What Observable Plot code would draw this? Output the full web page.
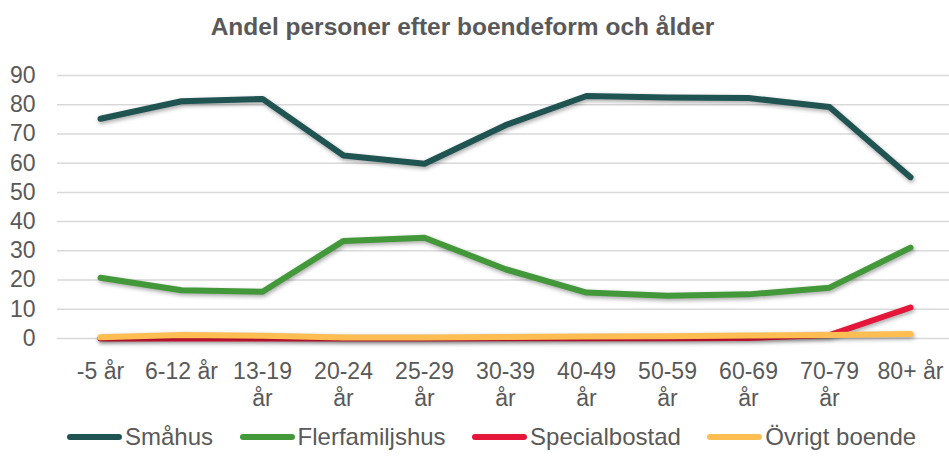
<!DOCTYPE html>
<html>
<head>
<meta charset="utf-8">
<script src="https://cdn.jsdelivr.net/npm/d3@7"></script>
<script src="https://cdn.jsdelivr.net/npm/@observablehq/plot@0.6"></script>
<style>
  html, body { margin: 0; padding: 0; background: #fff; }
  #wrap { width: 949px; height: 456px; overflow: hidden; font-family: "Liberation Sans", Arial, sans-serif; color: #595959; }
  #title { width: 949px; box-sizing: border-box; padding: 11.5px 24px 0 0; height: 60px; line-height: 30px; font-size: 24.5px; font-weight: bold; text-align: center; }
  #chart svg { display: block; }
  #chart g[aria-label="line"] path { filter: drop-shadow(1.5px 2.5px 2px rgba(0,0,0,0.35)); }
  #legend { height: 36px; box-sizing: border-box; padding: 4.7px 0 0 67px; display: flex; gap: 26.5px; }
  .item { display: flex; align-items: center; height: 24px; }
  .sw { width: 55px; height: 6px; border-radius: 3px; margin-right: 3px; }
  .lt { font-size: 24px; line-height: 24px; white-space: nowrap; }
</style>
</head>
<body>
<div id="wrap">
  <div id="title">Andel personer efter boendeform och ålder</div>
  <div id="chart"></div>
  <div id="legend"></div>
</div>
<script>
const categories = ["-5 år", "6-12 år", "13-19 år", "20-24 år", "25-29 år", "30-39 år", "40-49 år", "50-59 år", "60-69 år", "70-79 år", "80+ år"];
const tickLabels = ["-5 år", "6-12 år", "13-19\når", "20-24\når", "25-29\når", "30-39\når", "40-49\når", "50-59\når", "60-69\når", "70-79\når", "80+ år"];
const yTicks = [0, 10, 20, 30, 40, 50, 60, 70, 80, 90];

const seriesNames = ["Småhus", "Flerfamiljshus", "Specialbostad", "Övrigt boende"];
const seriesColors = ["#1f5452", "#43983a", "#e4173a", "#ffbd52"];

const smahus        = [75.2, 81.2, 82.0, 62.6, 59.8, 73.0, 83.0, 82.5, 82.3, 79.2, 55.2];
const flerfamiljshus = [20.8, 16.5, 16.0, 33.4, 34.5, 23.7, 15.7, 14.6, 15.1, 17.4, 31.1];
const specialbostad = [0.0, 0.0, 0.0, 0.0, 0.0, 0.1, 0.1, 0.1, 0.2, 1.2, 10.6];
const ovrigtBoende  = [0.4, 1.2, 0.9, 0.3, 0.3, 0.5, 0.7, 0.8, 1.0, 1.2, 1.5];

const seriesValues = [smahus, flerfamiljshus, specialbostad, ovrigtBoende];
const rows = [];
seriesNames.forEach((s, si) => {
  categories.forEach((c, ci) => rows.push({series: s, cat: c, value: seriesValues[si][ci]}));
});

const chart = Plot.plot({
  width: 949,
  height: 360,
  marginLeft: 57,
  marginRight: -4,
  marginTop: 15,
  marginBottom: 82,
  style: {fontFamily: "'Liberation Sans', Arial, sans-serif", fontSize: "23px", color: "#595959", background: "#fff", overflow: "visible"},
  x: {type: "point", domain: categories, padding: 0.5},
  y: {domain: [0, 90]},
  color: {domain: seriesNames, range: seriesColors},
  marks: [
    Plot.gridY(yTicks, {stroke: "#d9d9d9", strokeOpacity: 1, strokeWidth: 1.5}),
    Plot.axisY(yTicks, {tickSize: 0, tickPadding: 22, fontSize: 23, label: null}),
    Plot.axisX({tickSize: 0, tickPadding: 21, fontSize: 23, lineHeight: 1.17, label: null,
      tickFormat: d => tickLabels[categories.indexOf(d)]}),
    Plot.lineY(rows, {x: "cat", y: "value", z: "series", stroke: "series", strokeWidth: 6,
      strokeLinecap: "round", strokeLinejoin: "round"})
  ]
});
document.getElementById("chart").appendChild(chart);

const legend = document.getElementById("legend");
seriesNames.forEach((s, i) => {
  const item = document.createElement("div");
  item.className = "item";
  const sw = document.createElement("div");
  sw.className = "sw";
  sw.style.background = seriesColors[i];
  const t = document.createElement("span");
  t.className = "lt";
  t.textContent = s;
  item.appendChild(sw);
  item.appendChild(t);
  legend.appendChild(item);
});
</script>
</body>
</html>
